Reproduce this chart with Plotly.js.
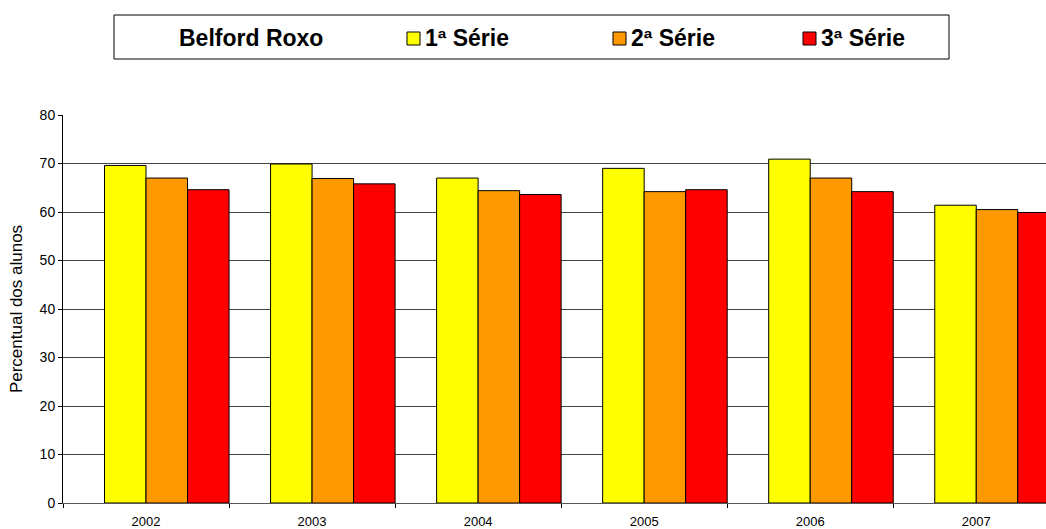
<!DOCTYPE html>
<html>
<head>
<meta charset="utf-8">
<script src="https://cdn.plot.ly/plotly-3.0.1.min.js"></script>
<style>
  html, body { margin: 0; padding: 0; background: #ffffff; overflow: hidden; }
  #chart { width: 1046px; height: 529px; }
</style>
</head>
<body>
<div id="chart"></div>
<script>
// ---- data ----
const legendTitle = "Belford Roxo";
const years = ["2002", "2003", "2004", "2005", "2006", "2007"];
const seriesNames = ["1ª Série", "2ª Série", "3ª Série"];
const serie1 = [69.6, 69.9, 67.0, 69.0, 70.9, 61.4];
const serie2 = [67.0, 66.9, 64.4, 64.2, 67.0, 60.5];
const serie3 = [64.6, 65.8, 63.6, 64.6, 64.2, 59.9];
const yTicks = [0, 10, 20, 30, 40, 50, 60, 70, 80];
const yTitle = "Percentual dos alunos";

// ---- styling ----
const colors = ["#FFFF00", "#FF9900", "#FF0000"];
const FONT = "Arial, 'Liberation Sans', sans-serif";
const W = 1046, H = 529, ml = 63, mr = 0, mt = 115, mb = 26;
const pw = W - ml - mr, ph = H - mt - mb;
const px = x => (x - ml) / pw;
const py = y => (H - mb - y) / ph;

const values = [serie1, serie2, serie3];
const offsets = [-0.25, 0, 0.25];

const traces = values.map((v, i) => ({
  type: "bar",
  name: seriesNames[i],
  x: years,
  y: v,
  width: 0.25,
  offset: offsets[i],
  marker: { color: colors[i], line: { color: "#000000", width: 1 } },
  showlegend: false,
  hoverinfo: "x+y+name"
}));

// manual legend (box, title, swatches, labels)
const LFONT = { family: FONT, size: 23, color: "#000000", weight: "bold" };
const shapes = [{
  type: "rect", xref: "paper", yref: "paper",
  x0: px(114), x1: px(949), y0: py(59), y1: py(15),
  line: { color: "#000000", width: 1 }, fillcolor: "rgba(0,0,0,0)"
}];
const annotations = [{
  xref: "paper", yref: "paper", x: px(177), y: py(38),
  xanchor: "left", yanchor: "middle", showarrow: false,
  text: legendTitle, font: LFONT
}];
const swatchLeft = [407, 613, 803];
seriesNames.forEach((n, i) => {
  const x0 = swatchLeft[i];
  shapes.push({
    type: "rect", xref: "paper", yref: "paper",
    x0: px(x0), x1: px(x0 + 13), y0: py(45), y1: py(32),
    line: { color: "#000000", width: 1 }, fillcolor: colors[i]
  });
  annotations.push({
    xref: "paper", yref: "paper", x: px(x0 + 16), y: py(38),
    xanchor: "left", yanchor: "middle", showarrow: false,
    text: n, font: LFONT
  });
});

const layout = {
  width: W, height: H,
  margin: { l: ml, r: mr, t: mt, b: mb, pad: 0 },
  paper_bgcolor: "#ffffff", plot_bgcolor: "#ffffff",
  font: { family: FONT, size: 14, color: "#000000" },
  barmode: "overlay",
  showlegend: false,
  xaxis: {
    type: "category",
    range: [-0.5, 5.42],
    tickson: "boundaries",
    ticks: "outside", ticklen: 4, tickcolor: "#000000", tickwidth: 1,
    showgrid: false, zeroline: false,
    showline: true, linecolor: "#555555", linewidth: 1,
    tickfont: { family: FONT, size: 13, color: "#000000" },
    ticklabelstandoff: 6,
    fixedrange: true
  },
  yaxis: {
    range: [0, 80],
    tickvals: yTicks,
    ticktext: yTicks.map(String),
    ticks: "outside", ticklen: 4, tickcolor: "#000000", tickwidth: 1,
    showgrid: true, gridcolor: "#444444", gridwidth: 1,
    zeroline: false,
    showline: true, linecolor: "#000000", linewidth: 1,
    tickfont: { family: FONT, size: 14, color: "#000000" },
    title: { text: yTitle, font: { family: FONT, size: 17, color: "#000000" }, standoff: 12 },
    fixedrange: true
  },
  shapes: shapes,
  annotations: annotations
};

Plotly.newPlot("chart", traces, layout, { displayModeBar: false, staticPlot: true });
</script>
</body>
</html>
